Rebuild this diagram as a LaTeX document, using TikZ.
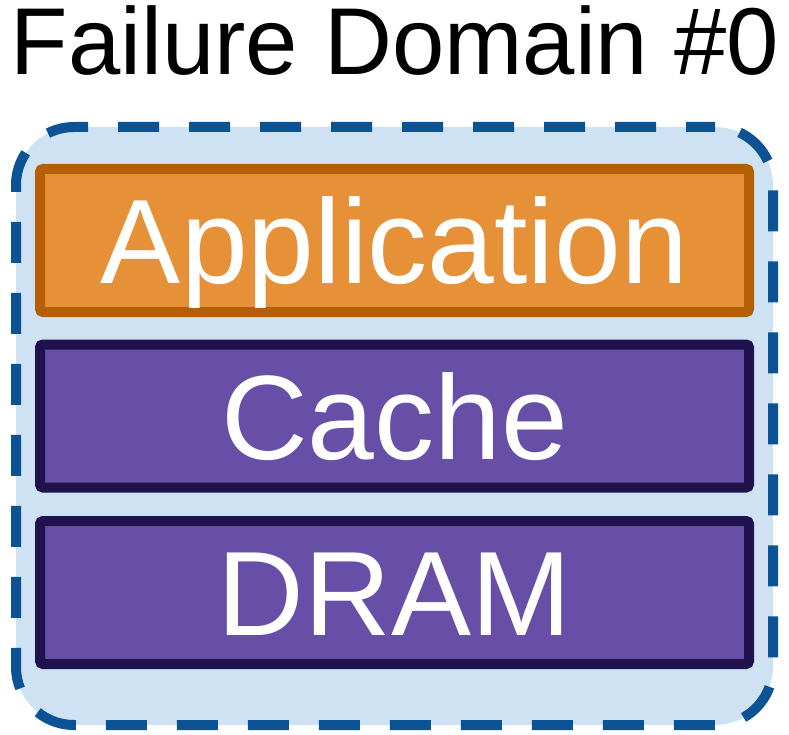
\documentclass[tikz,border=0pt]{standalone}
\usepackage{fontspec}
\setmainfont{Liberation Sans}
\definecolor{domfill}{HTML}{CFE2F3}
\definecolor{domline}{HTML}{0B5394}
\definecolor{appfill}{HTML}{E69138}
\definecolor{appline}{HTML}{B45F06}
\definecolor{memfill}{HTML}{674EA7}
\definecolor{memline}{HTML}{20124D}
\tikzset{
  layer/.style={rectangle, rounded corners=3pt, line width=10pt, minimum width=709pt, minimum height=143pt,
    text=white, font=\fontsize{120}{120}\selectfont, text height=86pt, text depth=0pt, inner sep=0pt},
  applayer/.style={layer, fill=appfill, draw=appline},
  memlayer/.style={layer, fill=memfill, draw=memline}
}
\begin{document}
\begin{tikzpicture}[x=1pt, y=-1pt]
\useasboundingbox (0,0) rectangle (789,735);

% failure domain
\node[rectangle, rounded corners=58pt, fill=domfill, draw=domline, line width=10pt,
  dash pattern=on 41pt off 30pt, dash phase=12pt, minimum width=757pt, minimum height=598pt] (domain) at (394.5,426) {};
\node[anchor=base, font=\fontsize{95}{95}\selectfont, xscale=.99, inner sep=0pt] (title) at (395,75) {Failure Domain \#0};

% layers
\node[applayer] (app) at (394.5,240.5) {Application};
\node[memlayer] (cache) at (394.5,416) {Cache};
\node[memlayer] (dram) at (394.5,592.5) {DRAM};
\end{tikzpicture}
\end{document}
